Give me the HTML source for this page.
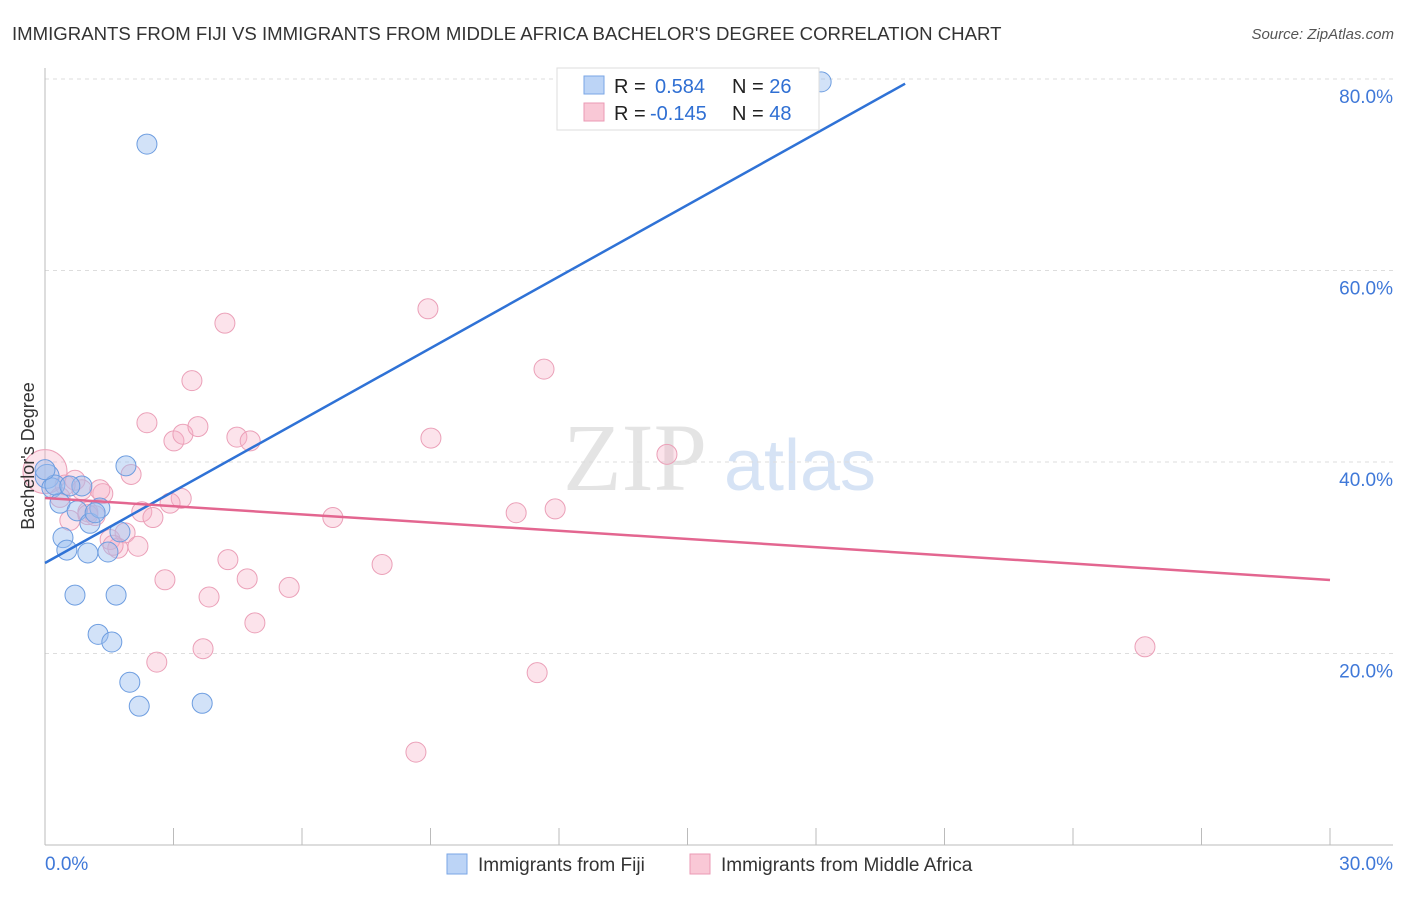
<!DOCTYPE html>
<html><head><meta charset="utf-8"><style>
body{margin:0;background:#fff;font-family:"Liberation Sans",sans-serif}
</style></head><body>
<svg id="c" width="1406" height="892" xmlns="http://www.w3.org/2000/svg">
<text x="12" y="40" font-size="18.6" fill="#333">IMMIGRANTS FROM FIJI VS IMMIGRANTS FROM MIDDLE AFRICA BACHELOR'S DEGREE CORRELATION CHART</text>
<text x="1394" y="39" font-size="15" fill="#555" font-style="italic" text-anchor="end">Source: ZipAtlas.com</text>
<g><text x="635" y="490" font-size="96" font-family="Liberation Serif,serif" fill="#e4e4e4" text-anchor="middle">ZIP</text><text x="800" y="490" font-size="72" fill="#d6e3f5" text-anchor="middle">atlas</text></g>
<g id="grid"></g><g id="axes"></g><g id="pts"></g><g id="lines"></g>
<text transform="translate(34,456) rotate(-90)" font-size="18" fill="#333" text-anchor="middle">Bachelor's Degree</text>
<g>
<rect x="557" y="68" width="262" height="62" fill="#fff" stroke="#ddd"/>
<rect x="584" y="76" width="20" height="18" fill="#bcd4f6" stroke="#7aa6e6"/>
<rect x="584" y="103" width="20" height="18" fill="#f9c8d6" stroke="#eb9ab4"/>
<text x="614" y="93" font-size="20" fill="#222">R = <tspan fill="#2f6fd3" x="655">0.584</tspan><tspan x="732">N = </tspan><tspan fill="#2f6fd3">26</tspan></text>
<text x="614" y="120" font-size="20" fill="#222">R = <tspan fill="#2f6fd3" x="650">-0.145</tspan><tspan x="732">N = </tspan><tspan fill="#2f6fd3">48</tspan></text>
</g>
<g>
<rect x="447" y="854" width="20" height="20" fill="#bcd4f6" stroke="#7aa6e6"/>
<text x="478" y="871" font-size="19" fill="#333">Immigrants from Fiji</text>
<rect x="690" y="854" width="20" height="20" fill="#f9c8d6" stroke="#eb9ab4"/>
<text x="721" y="871" font-size="19" fill="#333">Immigrants from Middle Africa</text>
</g>
</svg>
<script>
const yTicks=[20,40,60,80];
const yTickLabels=["20.0%","40.0%","60.0%","80.0%"];
const xTickLabels=["0.0%","30.0%"];
const fijiX=[0.05,0.16,0.35,0.42,0.51,0.70,0.75,0.86,1.00,1.05,1.24,1.28,1.47,1.56,1.66,1.75,1.89,1.98,2.20,2.38,3.67,18.12,0.23,0.58,1.17,0.0];
const fijiY=[38.5,37.3,35.7,32.1,30.8,26.1,34.9,37.5,30.5,33.6,22.0,35.2,30.6,21.2,26.1,32.7,39.6,17.0,14.5,73.2,14.8,79.7,37.6,37.5,34.7,39.2];
const afrX=[0,0.35,0.58,0.70,0.86,1.00,1.17,1.35,1.52,1.70,1.87,2.01,2.17,2.26,2.38,2.52,2.61,2.80,3.01,3.18,3.22,3.43,3.57,3.69,3.83,4.20,4.27,4.48,4.72,4.79,4.90,5.70,6.72,7.87,8.66,8.94,9.01,11.0,11.49,11.65,11.91,14.52,25.68,1.28,0.47,1.0,1.59,2.92];
const afrY=[39,36.3,33.9,38.1,37.1,34.8,34.4,36.7,31.9,31.0,32.6,38.7,31.2,34.8,44.1,34.2,19.1,27.7,42.2,36.2,42.9,48.5,43.7,20.5,25.9,54.5,29.8,42.6,27.8,42.2,23.2,26.9,34.2,29.3,9.7,56.0,42.5,34.7,18.0,49.7,35.1,40.8,20.7,37.1,37.6,34.5,31.3,35.7];
const fijiTrend=[29.45,2.493]; // intercept, slope
const afrTrend=[36.24,-0.2853];
const fijiTrendEnd=20.08, afrTrendEnd=30;
const NS="http://www.w3.org/2000/svg";
const X=v=>45+v/30*1285, Y=v=>845-v*9.575;
function mk(p,t,a){const e=document.createElementNS(NS,t);for(const k in a)e.setAttribute(k,a[k]);document.getElementById(p).appendChild(e);return e;}
yTicks.forEach((t,i)=>{
 let l=mk('grid','line',{x1:45,x2:1393,y1:Y(t),y2:Y(t),stroke:'#ddd','stroke-dasharray':'4,4'});
 
 
 let tx=mk('grid','text',{x:1393,y:Y(t)+24,'font-size':19,fill:'#3f78d8','text-anchor':'end'});
 tx.textContent=yTickLabels[i];
 
 
});
let ax=mk('axes','line',{x1:45,x2:1393,y1:845,y2:845,stroke:'#bbb'});


let ay=mk('axes','line',{x1:45,x2:45,y1:68,y2:845,stroke:'#bbb'});


for(let v=0;v<=30;v+=3){let t=mk('axes','line',{x1:X(v),x2:X(v),y1:828,y2:845,stroke:'#bbb'});
 
 }
[[0,'start',45],[30,'end',1393]].forEach((d,i)=>{let t=mk('axes','text',{x:d[2],y:870,'font-size':19,fill:'#3f78d8','text-anchor':d[1]});t.textContent=xTickLabels[i];
 
 });
afrX.forEach((x,i)=>{let c=mk('pts','circle',{cx:X(x),cy:Y(afrY[i]),r:i==0?22:10,fill:'rgba(245,175,198,0.35)',stroke:'#eba0b8','stroke-width':1});
 
 });
fijiX.forEach((x,i)=>{let c=mk('pts','circle',{cx:X(x),cy:Y(fijiY[i]),r:i==0?12:10,fill:'rgba(155,190,240,0.45)',stroke:'#6d9de0','stroke-width':1});
 
 });
let l1=mk('lines','line',{x1:X(0),y1:Y(fijiTrend[0]),x2:X(fijiTrendEnd),y2:Y(fijiTrend[0]+fijiTrend[1]*fijiTrendEnd),stroke:'#2f72d6','stroke-width':2.5});


let l2=mk('lines','line',{x1:X(0),y1:Y(afrTrend[0]),x2:X(afrTrendEnd),y2:Y(afrTrend[0]+afrTrend[1]*afrTrendEnd),stroke:'#e36690','stroke-width':2.5});


</script>
</body></html>
